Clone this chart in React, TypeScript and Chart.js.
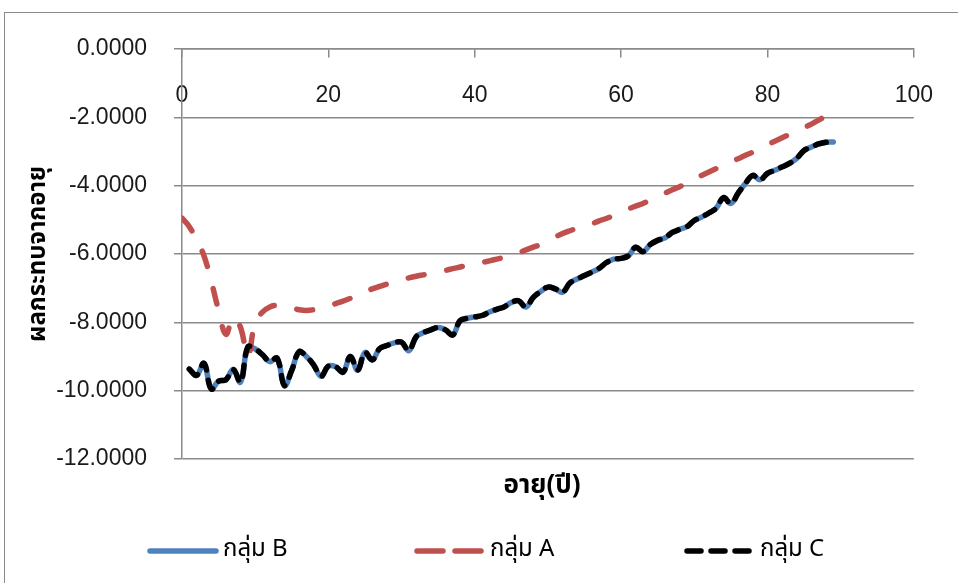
import React, { useEffect, useRef } from "react";
import { Chart, registerables } from "chart.js";

Chart.register(...registerables);

// ---- data ----
const ages = [
  0, 1, 2, 3, 4, 5, 6, 7, 8, 9,
  10, 11, 12, 13, 14, 15, 16, 17, 18, 19,
  20, 21, 22, 23, 24, 25, 26, 27, 28, 29,
  30, 31, 32, 33, 34, 35, 36, 37, 38, 39,
  40, 41, 42, 43, 44, 45, 46, 47, 48, 49,
  50, 51, 52, 53, 54, 55, 56, 57, 58, 59,
  60, 61, 62, 63, 64, 65, 66, 67, 68, 69,
  70, 71, 72, 73, 74, 75, 76, 77, 78, 79,
  80, 81, 82, 83, 84, 85, 86, 87, 88, 89,
];

const groupB: (number | null)[] = [
  null, -9.37, -9.55, -9.2, -9.95, -9.72, -9.68, -9.38, -9.75, -8.72,
  -8.78, -8.95, -9.15, -9.05, -9.85, -9.4, -8.86, -9.0, -9.25, -9.58,
  -9.28, -9.3, -9.46, -9.0, -9.4, -8.88, -9.1, -8.77, -8.68, -8.6,
  -8.58, -8.83, -8.42, -8.3, -8.22, -8.15, -8.22, -8.37, -7.95, -7.88,
  -7.84, -7.8, -7.7, -7.62, -7.55, -7.42, -7.37, -7.55, -7.27, -7.1,
  -6.97, -7.02, -7.12, -6.85, -6.73, -6.63, -6.53, -6.42, -6.25, -6.15,
  -6.13, -6.05, -5.8, -5.93, -5.72, -5.6, -5.53, -5.37, -5.28, -5.2,
  -5.02, -4.92, -4.8, -4.66, -4.35, -4.52, -4.22, -3.93, -3.7, -3.83,
  -3.64, -3.55, -3.45, -3.35, -3.2, -2.97, -2.87, -2.78, -2.73, -2.72,
];

const groupA: (number | null)[] = [
  -4.95, -5.2, -5.6, -6.05, -6.8, -7.65, -8.35, -7.85, -8.15, -9.0,
  -8.0, -7.7, -7.55, -7.5, -7.52, -7.58, -7.63, -7.65, -7.63, -7.58,
  -7.52, -7.45, -7.38, -7.3, -7.23, -7.12, -7.02, -6.95, -6.88, -6.82,
  -6.76, -6.7, -6.65, -6.61, -6.57, -6.53, -6.48, -6.43, -6.38, -6.33,
  -6.29, -6.25, -6.2, -6.15, -6.1, -6.04, -5.97, -5.88, -5.8, -5.72,
  -5.6, -5.5, -5.4, -5.32, -5.25, -5.2, -5.12, -5.03, -4.96, -4.87,
  -4.77, -4.68, -4.6, -4.52, -4.42, -4.32, -4.22, -4.12, -4.03, -3.92,
  -3.8, -3.7, -3.6, -3.5, -3.4, -3.3, -3.21, -3.11, -3.02, -2.92,
  -2.8, -2.7, -2.6, -2.5, -2.41, -2.3, -2.2, -2.08, -1.97, -1.9,
];

const groupC: (number | null)[] = [
  null, -9.37, -9.55, -9.2, -9.95, -9.72, -9.68, -9.38, -9.75, -8.72,
  -8.78, -8.95, -9.15, -9.05, -9.85, -9.4, -8.86, -9.0, -9.25, -9.58,
  -9.28, -9.3, -9.46, -9.0, -9.4, -8.88, -9.1, -8.77, -8.68, -8.6,
  -8.58, -8.83, -8.42, -8.3, -8.22, -8.15, -8.22, -8.37, -7.95, -7.88,
  -7.84, -7.8, -7.7, -7.62, -7.55, -7.42, -7.37, -7.55, -7.27, -7.1,
  -6.97, -7.02, -7.12, -6.85, -6.73, -6.63, -6.53, -6.42, -6.25, -6.15,
  -6.13, -6.05, -5.8, -5.93, -5.72, -5.6, -5.53, -5.37, -5.28, -5.2,
  -5.02, -4.92, -4.8, -4.66, -4.35, -4.52, -4.22, -3.93, -3.7, -3.83,
  -3.64, -3.55, -3.45, -3.35, -3.2, -2.97, -2.87, -2.78, -2.73, -2.72,
];

const seriesNames = ["กลุ่ม B", "กลุ่ม A", "กลุ่ม C"];
const xTickValues = [0, 20, 40, 60, 80, 100];
const yTickValues = [0, -2, -4, -6, -8, -10, -12];
const xTitle = "อายุ(ปี)";
const yTitle = "ผลกระทบจากอายุ";

const NUM_FONT = "'Liberation Sans', Arial, sans-serif";
const THAI_FONT = "'Noto Sans Thai', 'Leelawadee UI', Tahoma, 'DejaVu Sans', 'Noto Sans', sans-serif";
const GRID = "#8a8a8a";

function toPoints(vals: (number | null)[]) {
  const pts: { x: number; y: number }[] = [];
  ages.forEach((a, i) => {
    const v = vals[i];
    if (v !== null && v !== undefined) pts.push({ x: a, y: v });
  });
  return pts;
}

export default function App() {
  const ref = useRef<HTMLCanvasElement>(null);

  useEffect(() => {
    document.body.style.margin = "0";
    const canvas = ref.current;
    if (!canvas) return;

    const legendLayout = [
      { sx: 148, tx: 223, dash: [] as number[] },
      { sx: 415, tx: 490, dash: [26, 12] },
      { sx: 685, tx: 760, dash: [14, 10] },
    ];

    const deco = {
      id: "deco",
      beforeDraw(chart: any) {
        const ctx = chart.ctx;
        ctx.save();
        ctx.fillStyle = "#ffffff";
        ctx.fillRect(0, 0, chart.width, chart.height);
        ctx.strokeStyle = GRID;
        ctx.lineWidth = 1;
        ctx.strokeRect(4.5, 12.5, chart.width + 20, chart.height + 20);
        ctx.restore();
      },
      afterDraw(chart: any) {
        const ctx = chart.ctx;
        ctx.save();
        ctx.fillStyle = "#000";
        ctx.font = "bold 26px " + THAI_FONT;
        ctx.textAlign = "center";
        ctx.textBaseline = "middle";
        ctx.fillText(xTitle, 542, 488);
        const y = 551;
        chart.data.datasets.forEach((ds: any, i: number) => {
          const L = legendLayout[i];
          ctx.beginPath();
          ctx.setLineDash(L.dash);
          ctx.lineCap = "round";
          ctx.lineWidth = ds.borderWidth;
          ctx.strokeStyle = ds.borderColor;
          ctx.moveTo(L.sx + 2, y);
          ctx.lineTo(L.sx + 68, y);
          ctx.stroke();
          ctx.setLineDash([]);
          ctx.fillStyle = "#000";
          ctx.font = "24px " + THAI_FONT;
          ctx.textAlign = "left";
          ctx.textBaseline = "middle";
          ctx.fillText(ds.label, L.tx, y);
        });
        ctx.restore();
      },
    };

    const chart = new Chart(canvas, {
      type: "line",
      data: {
        datasets: [
          {
            label: seriesNames[0],
            data: toPoints(groupB),
            borderColor: "#4F81BD",
            borderWidth: 5.5,
            pointRadius: 0,
            tension: 0.4,
            borderCapStyle: "round",
            borderJoinStyle: "round",
            order: 3,
          },
          {
            label: seriesNames[1],
            data: toPoints(groupA),
            borderColor: "#C0504D",
            borderWidth: 5.5,
            borderDash: [16, 23],
            pointRadius: 0,
            tension: 0.4,
            borderCapStyle: "round",
            borderJoinStyle: "round",
            order: 2,
          },
          {
            label: seriesNames[2],
            data: toPoints(groupC),
            borderColor: "#000000",
            borderWidth: 5.5,
            borderDash: [11, 10],
            pointRadius: 0,
            tension: 0.4,
            borderCapStyle: "round",
            borderJoinStyle: "round",
            order: 1,
          },
        ],
      },
      options: {
        responsive: true,
        maintainAspectRatio: false,
        animation: false,
        layout: { padding: { left: 0, top: 49, right: 43, bottom: 124 } },
        plugins: { legend: { display: false }, tooltip: { enabled: false } },
        scales: {
          x: {
            type: "linear",
            min: 0,
            max: 100,
            position: { y: 0 } as any,
            afterBuildTicks: (s: any) => {
              s.ticks = xTickValues.map((v) => ({ value: v }));
            },
            ticks: {
              padding: 25,
              autoSkip: false,
              maxRotation: 0,
              color: "#1a1a1a",
              font: { family: NUM_FONT, size: 23 },
            },
            grid: { drawOnChartArea: false, drawTicks: true, tickLength: 8, color: GRID, lineWidth: 1.5 },
            border: { display: true, color: GRID, width: 1.5 },
          },
          y: {
            type: "linear",
            min: -12,
            max: 0,
            afterBuildTicks: (s: any) => {
              s.ticks = yTickValues.map((v) => ({ value: v }));
            },
            afterFit: (s: any) => {
              s.width = 182;
            },
            ticks: {
              padding: 27,
              color: "#1a1a1a",
              font: { family: NUM_FONT, size: 23 },
              callback: (v: any) => Number(v).toFixed(4),
            },
            grid: { color: GRID, lineWidth: 1.5, tickLength: 8 },
            border: { display: true, color: GRID, width: 1.5 },
            title: {
              display: true,
              text: yTitle,
              color: "#000",
              font: { family: THAI_FONT, size: 24, weight: "bold" },
              padding: { top: 26, bottom: 0 },
            },
          },
        },
      },
      plugins: [deco],
    } as any);

    return () => chart.destroy();
  }, []);

  return (
    <div style={{ position: "fixed", left: 0, top: 0, width: 958, height: 583 }}>
      <canvas ref={ref} />
    </div>
  );
}
